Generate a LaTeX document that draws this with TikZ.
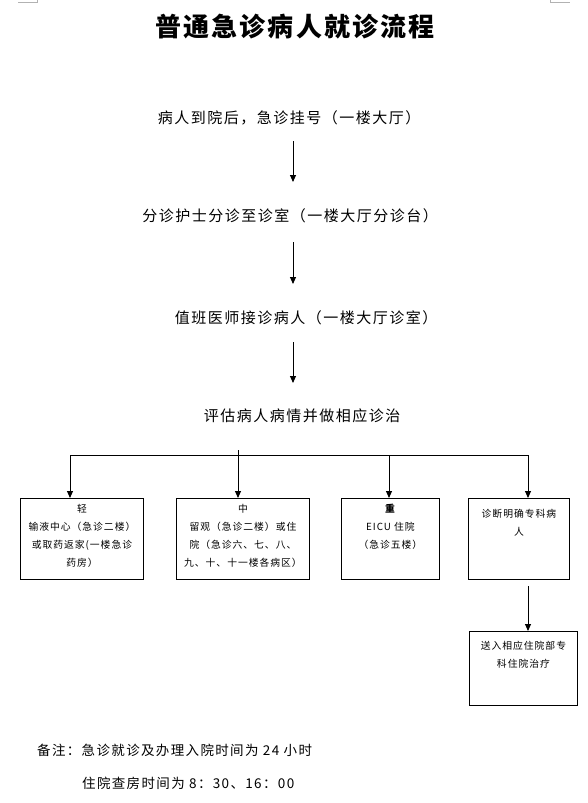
\documentclass[tikz,border=0pt]{standalone}
\usepackage{fontspec}
\usetikzlibrary{arrows.meta}
\newfontfamily\cjk{Noto Sans CJK SC}[LetterSpace=10]
\newfontfamily\cjktitle{Noto Sans CJK SC}[LetterSpace=8]
\begin{document}
\begin{tikzpicture}[x=1pt,y=-1pt,
  every node/.style={font=\cjk},
  titletext/.style={font=\cjktitle\bfseries\fontsize{26}{30}\selectfont, inner sep=0pt},
  flowtext/.style={font=\cjk\fontsize{15}{18}\selectfont, inner sep=0pt},
  notetext/.style={font=\cjk\fontsize{13.5}{16}\selectfont, inner sep=0pt, anchor=west},
  boxnode/.style={draw, line width=0.9pt, anchor=north west, inner sep=0pt},
  boxtext/.style={font=\cjk\fontsize{9.8}{18}\selectfont, align=center, anchor=north, inner sep=0pt},
  arr/.style={line width=0.9pt, -{Triangle[length=7pt,width=6pt]}},
  plain/.style={line width=0.9pt},
  cornermark/.style={draw=gray!60, line width=0.8pt}
]
\useasboundingbox (0,0) rectangle (588,803);

% page corner marks
\coordinate (tl1) at (18,2.5); \coordinate (tl2) at (37,2.5); \coordinate (tl3) at (37,0);
\coordinate (tr1) at (550,0); \coordinate (tr2) at (550,2.5); \coordinate (tr3) at (570,2.5);
\draw[cornermark] (tl1) -- (tl2) -- (tl3);
\draw[cornermark] (tr1) -- (tr2) -- (tr3);

% title
\node[titletext] (title) at (295,27) {普通急诊病人就诊流程};

% main flow
\node[flowtext] (s1) at (289,118) {病人到院后，急诊挂号（一楼大厅）};
\node[flowtext] (s2) at (290,216) {分诊护士分诊至诊室（一楼大厅分诊台）};
\node[flowtext] (s3) at (306,318) {值班医师接诊病人（一楼大厅诊室）};
\node[flowtext] (s4) at (302,416) {评估病人病情并做相应诊治};

\coordinate (a1s) at (293,141); \coordinate (a1e) at (293,182);
\coordinate (a2s) at (293,242); \coordinate (a2e) at (293,284);
\coordinate (a3s) at (293,342); \coordinate (a3e) at (293,383);
\draw[arr] (a1s) -- (a1e);
\draw[arr] (a2s) -- (a2e);
\draw[arr] (a3s) -- (a3e);

% boxes
\node[boxnode, minimum width=123, minimum height=81] (b1) at (20,498) {};
\node[boxnode, minimum width=133, minimum height=81] (b2) at (176,498) {};
\node[boxnode, minimum width=98, minimum height=81] (b3) at (341,498) {};
\node[boxnode, minimum width=101, minimum height=81] (b4) at (468,498) {};
\node[boxnode, minimum width=108, minimum height=74] (b5) at (469,631) {};

\node[boxtext] (t1) at ([yshift=-6pt]b1.north) {轻\\输液中心（急诊二楼）\\或取药返家(一楼急诊\\药房）};
\node[boxtext] (t2) at ([yshift=-6pt]b2.north) {中\\留观（急诊二楼）或住\\院（急诊六、七、八、\\九、十、十一楼各病区）};
\node[boxtext] (t3) at ([yshift=-6pt]b3.north) {\textbf{重}\\EICU 住院\\（急诊五楼）};
\node[boxtext] (t4) at ([yshift=-11pt]b4.north) {诊断明确专科病\\人};
\node[boxtext] (t5) at ([yshift=-10pt]b5.north) {送入相应住院部专\\科住院治疗};

% branching
\coordinate (h1) at (70,455);
\coordinate (h2) at (238,455);
\coordinate (h3) at (389,455);
\coordinate (h4) at (528,455);
\coordinate (h2top) at (238,450);
\draw[plain] (h1) -- (h4);
\draw[plain] (h2top) -- (h2);
\draw[arr] (h1) -- (h1 |- b1.north);
\draw[arr] (h2) -- (h2 |- b2.north);
\draw[arr] (h3) -- (h3 |- b3.north);
\draw[arr] (h4) -- (h4 |- b4.north);

\coordinate (b4out) at (528,586);
\draw[arr] (b4out) -- (b4out |- b5.north);

% notes
\node[notetext] (n1) at (37,750) {备注：急诊就诊及办理入院时间为 24 小时};
\node[notetext] (n2) at (82,783) {住院查房时间为 8：30、16：00};
\end{tikzpicture}
\end{document}
